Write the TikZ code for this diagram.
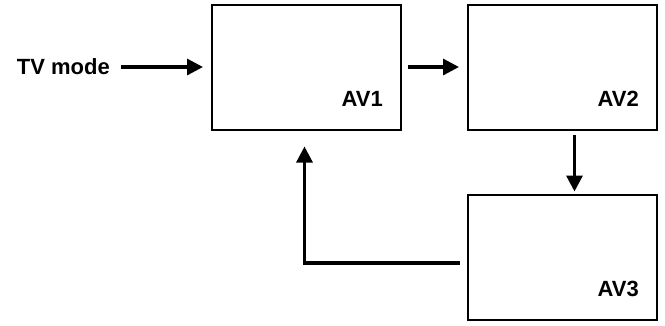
\documentclass[tikz,border=0pt]{standalone}
\usepackage{fontspec}
\setmainfont{Liberation Sans}
\usepackage{tikz}
\usetikzlibrary{arrows.meta,positioning}

\begin{document}
\begin{tikzpicture}[
    x=1pt, y=1pt,
    box/.style={draw, line width=2pt, minimum width=189pt, minimum height=125pt, inner sep=0pt},
    lbl/.style={inner sep=0pt, font=\fontsize{22}{26}\selectfont\bfseries},
    flow/.style={-{Triangle[length=16pt,width=16pt]}, line width=3.2pt}
  ]
    \useasboundingbox (0,0) rectangle (665,-325);
    \node[box] (av1) at (306.5,-67) {};
    \node[box, right=65pt of av1] (av2) {};
    \node[box, below=63pt of av2] (av3) {};

    \node[lbl, above left=24pt and 19pt of av1.south east] (l1) {AV1};
    \node[lbl, above left=24pt and 19pt of av2.south east] (l2) {AV2};
    \node[lbl, above left=24pt and 19pt of av3.south east] (l3) {AV3};
    \node[lbl, left=101pt of av1] (tv) {TV mode};

    \draw[flow] ([xshift=11pt]tv.east) -- ([xshift=-8pt]av1.west);
    \draw[flow] ([xshift=6pt]av1.east) -- ([xshift=-8pt]av2.west);
    \draw[flow] ([shift={(12pt,-4pt)}]av2.south) -- ([shift={(12pt,2pt)}]av3.north);
    \draw[flow] ([shift={(-7pt,-6pt)}]av3.west) -| ([shift={(-2pt,-16pt)}]av1.south);
  \end{tikzpicture}
\end{document}
